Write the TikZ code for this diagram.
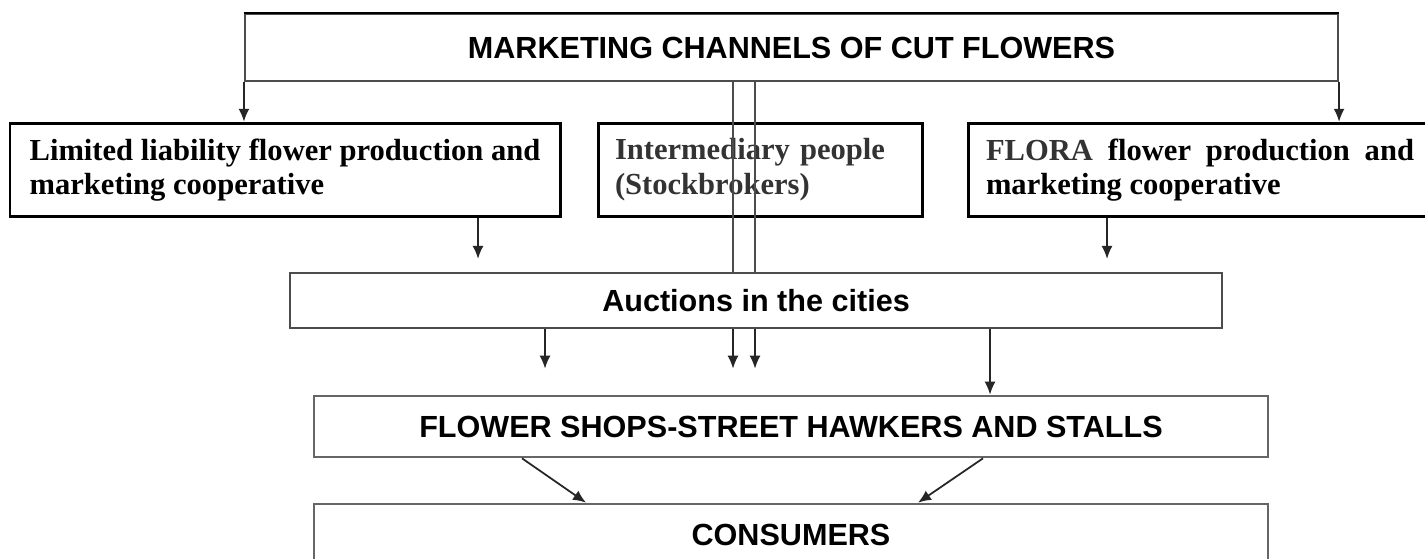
\documentclass[tikz,border=0pt]{standalone}
\usepackage{fontspec}
\setmainfont{Liberation Serif}
\setsansfont{Liberation Sans}
\usetikzlibrary{arrows.meta}
\tikzstyle{plain} = [draw=black!70, line width=1.2pt, rectangle, inner sep=0pt,
    font=\sffamily\bfseries\fontsize{17.4}{20}\selectfont]
\tikzstyle{wide} = [plain, draw=black!60, line width=1.5pt, minimum width=19.08cm, minimum height=1.22cm]
\tikzstyle{coop} = [draw, line width=1.7pt, rectangle, minimum height=1.86cm,
    font=\bfseries\fontsize{17.4}{19.5}\selectfont]
\tikzstyle{flow} = [->, line width=1pt, black!85]
\tikzstyle{link} = [line width=1pt, black!70]

\begin{document}
\begin{tikzpicture}[>={Latex[length=2.6mm,width=2.2mm]}]
    \useasboundingbox (0,0) rectangle (28.5,-11.18);
    % The boxes, top to bottom
    \node [plain, minimum width=21.86cm, minimum height=1.34cm] (channels) at (15.83,-0.95)
        {MARKETING CHANNELS OF CUT FLOWERS};
    \draw [line width=1.2pt] (channels.north west) -- (channels.north east);
    \node [coop, minimum width=11cm, align=left] (limited) at (5.7,-3.395)
        {Limited liability flower production and\\marketing cooperative};
    \node [coop, text width=5.8cm, inner xsep=0.34cm, align=left, text=black!80] (stockbrokers) at (15.2,-3.395)
        {Intermediary people\\(Stockbrokers)};
    \node [coop, text width=8.56cm, inner xsep=0.36cm, align=justify] (flora) at (24.0,-3.395)
        {\textcolor{black!80}{FLORA} flower production and marketing cooperative};
    \node [plain, minimum width=18.64cm, minimum height=1.1cm] (auctions) at (15.12,-6.01)
        {Auctions in the cities};
    \node [wide] (shops) at (15.82,-8.53) {FLOWER SHOPS-STREET HAWKERS AND STALLS};
    \node [wide] (consumers) at (15.82,-10.69) {CONSUMERS};
    % The two outer channels come down the sides of the title box
    \draw [flow] (channels.south west) -- (channels.west |- limited.north);
    \draw [flow] (channels.south east) -- (channels.east |- flora.north);
    % Cooperatives to the auctions
    \draw [flow, shorten >=0.26cm] (9.56,0 |- limited.south) -- (9.56,0 |- auctions.north);
    \draw [flow, shorten >=0.26cm] (22.14,0 |- flora.south) -- (22.14,0 |- auctions.north);
    % The stockbrokers' double line runs past the auctions
    \draw [link] (14.66,0 |- channels.south) -- (14.66,0 |- auctions.north);
    \draw [link] (15.10,0 |- channels.south) -- (15.10,0 |- auctions.north);
    \draw [flow, shorten >=0.52cm] (14.66,0 |- auctions.south) -- (14.66,0 |- shops.north);
    \draw [flow, shorten >=0.52cm] (15.10,0 |- auctions.south) -- (15.10,0 |- shops.north);
    % Auctions to the shops
    \draw [flow, shorten >=0.52cm] (10.9,0 |- auctions.south) -- (10.9,0 |- shops.north);
    \draw [flow] (19.8,0 |- auctions.south) -- (19.8,0 |- shops.north);
    % Shops to the consumers
    \draw [flow] (10.44,0 |- shops.south) -- (11.72,0 |- consumers.north);
    \draw [flow] (19.66,0 |- shops.south) -- (18.36,0 |- consumers.north);
\end{tikzpicture}
\end{document}
